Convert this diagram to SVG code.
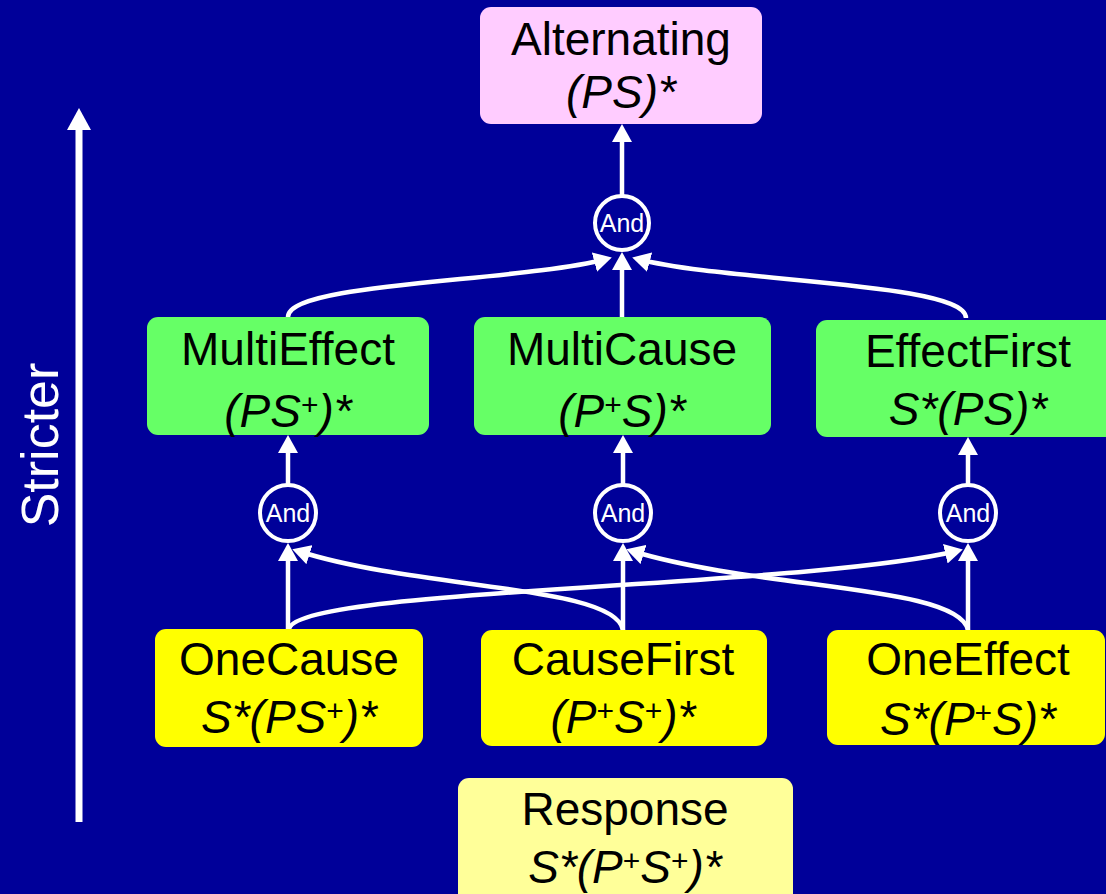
<svg xmlns="http://www.w3.org/2000/svg" width="1106" height="894" viewBox="0 0 1106 894">
<defs>
<style>
.bx{stroke:none}
.t{font-family:"Liberation Sans",Arial,sans-serif;font-size:46px;fill:#000;text-anchor:middle}
.i{font-style:italic}
.sp{font-size:30px;font-style:normal}
.c{fill:none;stroke:#fff;stroke-width:4.5}
.and{fill:none;stroke:#fff;stroke-width:4}
.at{font-family:"Liberation Sans",Arial,sans-serif;font-size:25px;fill:#fff;text-anchor:middle}
</style>
<marker id="ah" markerUnits="userSpaceOnUse" viewBox="0 0 18 20" markerWidth="18" markerHeight="20" refX="12" refY="10" orient="auto">
<path d="M0,0 L18,10 L0,20 z" fill="#fff"/>
</marker>
</defs>
<rect width="1106" height="894" fill="#000099"/>

<g id="stricter">
<line x1="79" y1="822" x2="79" y2="126" stroke="#fff" stroke-width="7"/>
<polygon points="67,130 79,108 91,130" fill="#fff"/>
<text transform="translate(58,445) rotate(-90)" x="0" y="0" font-family="Liberation Sans, Arial, sans-serif" font-size="52" fill="#fff" text-anchor="middle">Stricter</text>
</g>

<g id="connectors">
<path class="c" d="M622 196 L622 130" marker-end="url(#ah)"/>
<path class="c" d="M288 317 C 288 282, 520 282, 606 259" marker-end="url(#ah)"/>
<path class="c" d="M622 317 L622 258" marker-end="url(#ah)"/>
<path class="c" d="M966 318 C 966 282, 724 282, 638 259" marker-end="url(#ah)"/>
<path class="c" d="M288 485 L288 441" marker-end="url(#ah)"/>
<path class="c" d="M623 485 L623 441" marker-end="url(#ah)"/>
<path class="c" d="M968 485 L968 443" marker-end="url(#ah)"/>
<path class="c" d="M288 629 L288 549" marker-end="url(#ah)"/>
<path class="c" d="M623 630 L623 549" marker-end="url(#ah)"/>
<path class="c" d="M968 630 L968 549" marker-end="url(#ah)"/>
<path class="c" d="M289 629 C 298 588, 800 588, 957 551" marker-end="url(#ah)"/>
<path class="c" d="M623 630 C 615 585, 420 590, 298 551" marker-end="url(#ah)"/>
<path class="c" d="M968 630 C 958 585, 760 590, 632 551" marker-end="url(#ah)"/>
</g>

<g id="and-top">
<circle class="and" cx="622" cy="223" r="27"/>
<text class="at" x="622" y="232">And</text>
</g>
<g id="and-left">
<circle class="and" cx="288" cy="513" r="28"/>
<text class="at" x="288" y="522">And</text>
</g>
<g id="and-mid">
<circle class="and" cx="623" cy="513" r="28"/>
<text class="at" x="623" y="522">And</text>
</g>
<g id="and-right">
<circle class="and" cx="968" cy="513" r="28"/>
<text class="at" x="968" y="522">And</text>
</g>

<g id="alternating">
<rect class="bx" x="480" y="7" width="282" height="117" rx="11" fill="#ffccff"/>
<text class="t" x="621" y="55">Alternating</text>
<text class="t i" x="621" y="108">(PS)*</text>
</g>

<g id="multieffect">
<rect class="bx" x="147" y="317" width="282" height="118" rx="11" fill="#66ff66"/>
<text class="t" x="288" y="365">MultiEffect</text>
<text class="t i" x="288" y="427">(PS<tspan class="sp" dy="-12">+</tspan><tspan dy="12">)*</tspan></text>
</g>

<g id="multicause">
<rect class="bx" x="474" y="317" width="297" height="118" rx="11" fill="#66ff66"/>
<text class="t" x="622" y="365">MultiCause</text>
<text class="t i" x="622" y="427">(P<tspan class="sp" dy="-12">+</tspan><tspan dy="12">S)*</tspan></text>
</g>

<g id="effectfirst">
<rect class="bx" x="816" y="320" width="300" height="117" rx="11" fill="#66ff66"/>
<text class="t" x="968" y="367">EffectFirst</text>
<text class="t i" x="968" y="425">S*(PS)*</text>
</g>

<g id="onecause">
<rect class="bx" x="155" y="629" width="268" height="118" rx="11" fill="#ffff00"/>
<text class="t" x="289" y="675">OneCause</text>
<text class="t i" x="289" y="733">S*(PS<tspan class="sp" dy="-12">+</tspan><tspan dy="12">)*</tspan></text>
</g>

<g id="causefirst">
<rect class="bx" x="481" y="630" width="286" height="116" rx="11" fill="#ffff00"/>
<text class="t" x="623" y="675">CauseFirst</text>
<text class="t i" x="623" y="733">(P<tspan class="sp" dy="-12">+</tspan><tspan dy="12">S</tspan><tspan class="sp" dy="-12">+</tspan><tspan dy="12">)*</tspan></text>
</g>

<g id="oneeffect">
<rect class="bx" x="827" y="630" width="278" height="115" rx="11" fill="#ffff00"/>
<text class="t" x="968" y="675">OneEffect</text>
<text class="t i" x="968" y="735">S*(P<tspan class="sp" dy="-12">+</tspan><tspan dy="12">S)*</tspan></text>
</g>

<g id="response">
<rect class="bx" x="458" y="778" width="335" height="130" rx="11" fill="#ffff99"/>
<text class="t" x="625" y="825">Response</text>
<text class="t i" x="625" y="883">S*(P<tspan class="sp" dy="-12">+</tspan><tspan dy="12">S</tspan><tspan class="sp" dy="-12">+</tspan><tspan dy="12">)*</tspan></text>
</g>
</svg>
